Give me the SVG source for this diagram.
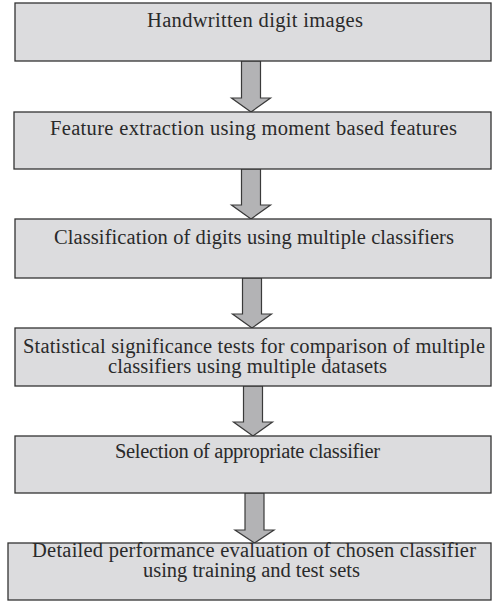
<svg xmlns="http://www.w3.org/2000/svg" width="492" height="603" viewBox="0 0 492 603">
  <style>
    .box { fill: #dcdcde; stroke: #333333; stroke-width: 1.3; }
    .arrow { fill: #b3b3b5; stroke: #3a3a3a; stroke-width: 1.2; stroke-linejoin: miter; }
    .label { font-family: "Liberation Serif", "Times New Roman", serif; font-size: 20.5px; fill: #2a2a2a; text-anchor: middle; }
  </style>
  <rect width="492" height="603" fill="#ffffff"/>

  <!-- connectors: block arrows between stages -->
  <g id="connectors">
    <path class="arrow" d="M241.5,61 H260.5 V98 H270.5 L251,112 L231.5,98 H241.5 Z"/>
    <path class="arrow" d="M241.5,169 H260.5 V205 H270.5 L251,219 L231.5,205 H241.5 Z"/>
    <path class="arrow" d="M242.5,278 H261.5 V314 H271.5 L252,328 L232.5,314 H242.5 Z"/>
    <path class="arrow" d="M243.5,386 H262.5 V422 H272.5 L253,436 L233.5,422 H243.5 Z"/>
    <path class="arrow" d="M245,493 H264 V530 H274 L254.5,543 L235,530 H245 Z"/>
  </g>

  <g id="node-images">
    <rect class="box" x="15" y="3" width="476" height="58"/>
    <text class="label" x="255" y="27" textLength="216" lengthAdjust="spacing">Handwritten digit images</text>
  </g>

  <g id="node-features">
    <rect class="box" x="14" y="112" width="477" height="57"/>
    <text class="label" x="253.5" y="135" textLength="407" lengthAdjust="spacing">Feature extraction using moment based features</text>
  </g>

  <g id="node-classification">
    <rect class="box" x="15" y="219" width="476" height="59"/>
    <text class="label" x="254" y="244" textLength="400" lengthAdjust="spacing">Classification of digits using multiple classifiers</text>
  </g>

  <g id="node-significance">
    <rect class="box" x="15" y="328" width="476" height="58"/>
    <text class="label" x="254" y="353" textLength="462" lengthAdjust="spacing">Statistical significance tests for comparison of multiple</text>
    <text class="label" x="247.5" y="373" textLength="279" lengthAdjust="spacing">classifiers using multiple datasets</text>
  </g>

  <g id="node-selection">
    <rect class="box" x="15" y="436" width="476" height="57"/>
    <text class="label" x="247.5" y="458" textLength="265" lengthAdjust="spacing">Selection of appropriate classifier</text>
  </g>

  <g id="node-evaluation">
    <rect class="box" x="8" y="543" width="483" height="57"/>
    <text class="label" x="254" y="557" textLength="444" lengthAdjust="spacing">Detailed performance evaluation of chosen classifier</text>
    <text class="label" x="251.5" y="577" textLength="217" lengthAdjust="spacing">using training and test sets</text>
  </g>
</svg>
